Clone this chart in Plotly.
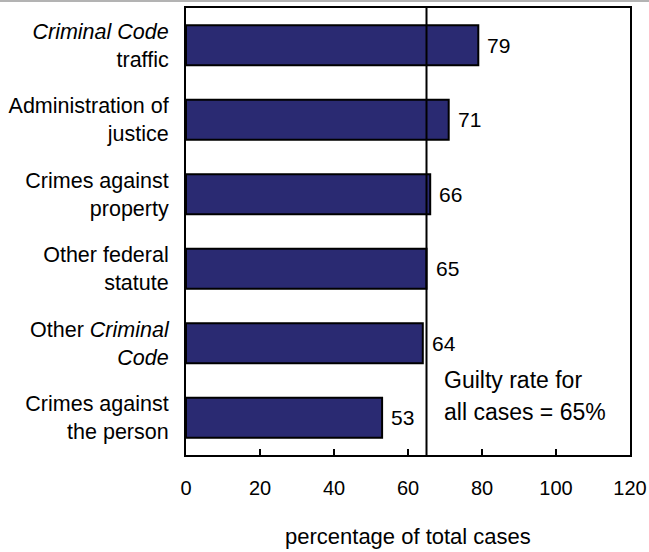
import plotly.graph_objects as go

categories = [
    "<i>Criminal Code</i><br>traffic",
    "Administration of<br>justice",
    "Crimes against<br>property",
    "Other federal<br>statute",
    "Other <i>Criminal</i><br><i>Code</i>",
    "Crimes against<br>the person",
]
values = [79, 71, 66, 65, 64, 53]
overall_rate = 65
x_ticks = [0, 20, 40, 60, 80, 100, 120]
note_lines = ["Guilty rate for", "all cases = 65%"]
x_title = "percentage of total cases"

FONT = "Liberation Sans, Arial, Helvetica, sans-serif"

fig = go.Figure()
fig.add_trace(go.Bar(
    y=categories, x=values, orientation="h",
    marker=dict(color="#2a2a72", line=dict(color="black", width=2)),
    width=0.54, hoverinfo="x+y",
))

# value labels next to bars
for c, v in zip(categories, values):
    fig.add_annotation(x=v, y=c, text=str(v), showarrow=False,
                       xanchor="left", xshift=7, yshift=0,
                       font=dict(size=21, color="black", family=FONT))

# overall guilty-rate line
fig.add_shape(type="line", x0=overall_rate, x1=overall_rate, xref="x",
              y0=0, y1=1, yref="paper", line=dict(color="black", width=2), layer="above")

note_y = [0.168, 0.096]
for t, yy in zip(note_lines, note_y):
    fig.add_annotation(x=overall_rate, y=yy, xref="x", yref="paper", text=t,
                       showarrow=False, xanchor="left", yanchor="middle", xshift=15,
                       font=dict(size=23, color="black", family=FONT))

# x-axis title
fig.add_annotation(x=0.5, y=-0.1834, xref="paper", yref="paper", text=x_title,
                   showarrow=False, xanchor="center", yanchor="middle",
                   font=dict(size=22, color="black", family=FONT))

# thin grey rule at very top of the image
fig.add_shape(type="line", xref="paper", yref="paper",
              x0=-186 / 444, x1=(649 - 186) / 444,
              y0=1 + 7 / 447, y1=1 + 7 / 447,
              line=dict(color="#9a9a9a", width=1.5))

fig.update_layout(
    width=649, height=552,
    margin=dict(l=186, r=19, t=8, b=97),
    paper_bgcolor="white", plot_bgcolor="white",
    font=dict(family=FONT, color="black"),
    showlegend=False,
    xaxis=dict(
        range=[0, 120], tickvals=x_ticks, ticks="inside", ticklen=6, tickwidth=2,
        tickcolor="black", showgrid=False, zeroline=False, automargin=False,
        showline=True, linecolor="black", linewidth=2, mirror=True,
        tickfont=dict(size=20, family=FONT), ticklabelstandoff=14,
    ),
    yaxis=dict(
        autorange="reversed", ticks="", showgrid=False, zeroline=False, automargin=False,
        showline=True, linecolor="black", linewidth=2, mirror=True,
        tickfont=dict(size=21.5, family=FONT), ticklabelstandoff=11,
    ),
)

fig.write_html("out.html", config={"displayModeBar": False},
               post_script="document.body.style.margin='0';document.body.style.overflow='hidden';")
